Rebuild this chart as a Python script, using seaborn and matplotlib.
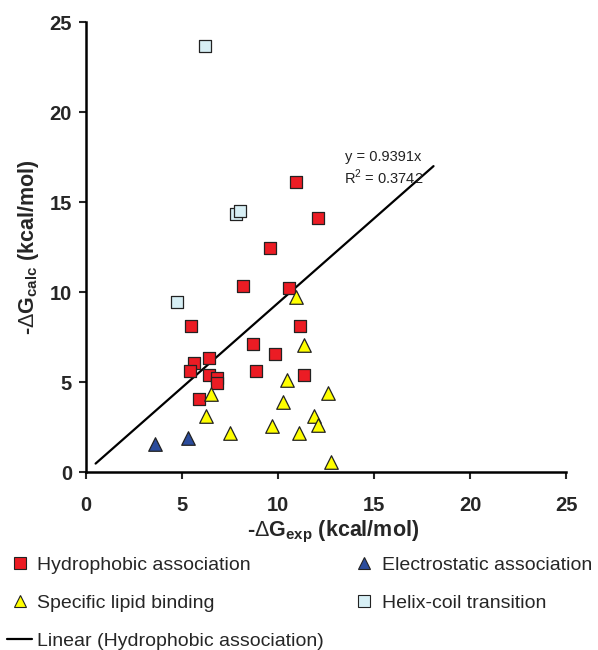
import numpy as np
import pandas as pd
import seaborn as sns
import matplotlib.pyplot as plt
from matplotlib.lines import Line2D

# values
hydro_x = [10.95, 12.1, 9.6, 8.16, 10.55, 5.48, 11.16, 8.68, 9.83, 5.62,
           6.42, 5.43, 6.42, 6.82, 6.82, 8.87, 11.35, 5.9]
hydro_y = [16.1, 14.1, 12.44, 10.33, 10.2, 8.11, 8.09, 7.13, 6.57, 6.04,
           6.32, 5.61, 5.39, 5.2, 4.96, 5.61, 5.39, 4.07]

elec_x = [3.58, 5.33]
elec_y = [1.54, 1.91]

lipid_x = [10.95, 11.35, 10.45, 12.61, 6.5, 10.26, 6.23, 11.88, 12.07,
           9.67, 7.52, 11.1, 12.77]
lipid_y = [9.74, 7.06, 5.11, 4.41, 4.33, 3.91, 3.11, 3.13, 2.61,
           2.56, 2.15, 2.15, 0.56]

helix_x = [6.21, 7.82, 8.0, 4.72]
helix_y = [23.68, 14.33, 14.5, 9.43]

slope = 0.9391
r2 = 0.3742
fit_range = [0.5, 18.1]

groups = ["Hydrophobic association", "Electrostatic association",
          "Specific lipid binding", "Helix-coil transition"]

df = pd.concat([
    pd.DataFrame({"x": hydro_x, "y": hydro_y, "group": groups[0]}),
    pd.DataFrame({"x": elec_x, "y": elec_y, "group": groups[1]}),
    pd.DataFrame({"x": lipid_x, "y": lipid_y, "group": groups[2]}),
    pd.DataFrame({"x": helix_x, "y": helix_y, "group": groups[3]}),
])

palette = {groups[0]: "#ec1c24", groups[1]: "#2b4c9c",
           groups[2]: "#ffff00", groups[3]: "#d7eff5"}
markers = {groups[0]: "s", groups[1]: "^", groups[2]: "^", groups[3]: "s"}

sns.set_style("white")
plt.rcParams["font.family"] = ["Liberation Sans", "DejaVu Sans"]
plt.rcParams["mathtext.fontset"] = "custom"
plt.rcParams["mathtext.rm"] = "Liberation Sans"
plt.rcParams["mathtext.bf"] = "Liberation Sans:bold"

fig = plt.figure(figsize=(5.98, 6.5), dpi=100)
ax = fig.add_axes([0.1438, 0.2738, 0.8027, 0.6922])

fit_x = np.array(fit_range)
sns.lineplot(x=fit_x, y=slope * fit_x, color="black", lw=1.6, ax=ax)

sizes = {"s": 80, "^": 95}
for g in [groups[3], groups[0], groups[2], groups[1]]:
    sub = df[df["group"] == g]
    sns.scatterplot(data=sub, x="x", y="y", marker=markers[g],
                    color=palette[g], edgecolor="#222222", linewidth=0.9,
                    s=sizes[markers[g]], ax=ax, zorder=3)

ax.text(15.5, 17.5, "y = %.4fx" % slope, fontsize=10.5, ha="center",
        va="center", color="#222222")
ax.text(15.5, 16.4, "R$^2$ = %.4f" % r2, fontsize=10.5, ha="center",
        va="center", color="#222222")

ax.set_xlim(0, 25)
ax.set_ylim(0, 25)
ax.set_xticks(range(0, 26, 5))
ax.set_yticks(range(0, 26, 5))
for lab in ax.get_xticklabels() + ax.get_yticklabels():
    lab.set_fontweight("bold")
ax.tick_params(direction="out", length=5, width=1.5, labelsize=14.5,
               bottom=True, left=True)
ax.tick_params(axis="x", pad=12)
ax.tick_params(axis="y", pad=5)

for s in ["top", "right"]:
    ax.spines[s].set_visible(False)
for s in ["left", "bottom"]:
    ax.spines[s].set_color("black")
    ax.spines[s].set_linewidth(1.8)

ax.set_xlabel(r"-$\Delta\mathbf{G}_{\mathbf{exp}}$ (kcal/mol)",
              fontsize=15.5, fontweight="bold", labelpad=4)
ax.set_ylabel(r"-$\Delta\mathbf{G}_{\mathbf{calc}}$ (kcal/mol)",
              fontsize=15.5, fontweight="bold", labelpad=6)
ax.xaxis.set_label_coords(0.515, -0.105)

def mk(m, c):
    return Line2D([], [], ls="none", marker=m, markerfacecolor=c,
                  markeredgecolor="#222222", markeredgewidth=0.8, markersize=8)

handles = [mk("s", palette[groups[0]]), mk("^", palette[groups[2]]),
           Line2D([], [], color="black", lw=1.6),
           mk("^", palette[groups[1]]), mk("s", palette[groups[3]])]
labels = [groups[0], groups[2], "Linear (Hydrophobic association)",
          groups[1], groups[3]]
fig.legend(handles, labels, ncol=2, loc="upper left",
           bbox_to_anchor=(0.0117, 0.1446), frameon=False, fontsize=14,
           handlelength=1.3, handletextpad=0.26, columnspacing=1.4,
           labelspacing=1.06, borderaxespad=0, borderpad=0)

fig.savefig("out.png", dpi=100)
